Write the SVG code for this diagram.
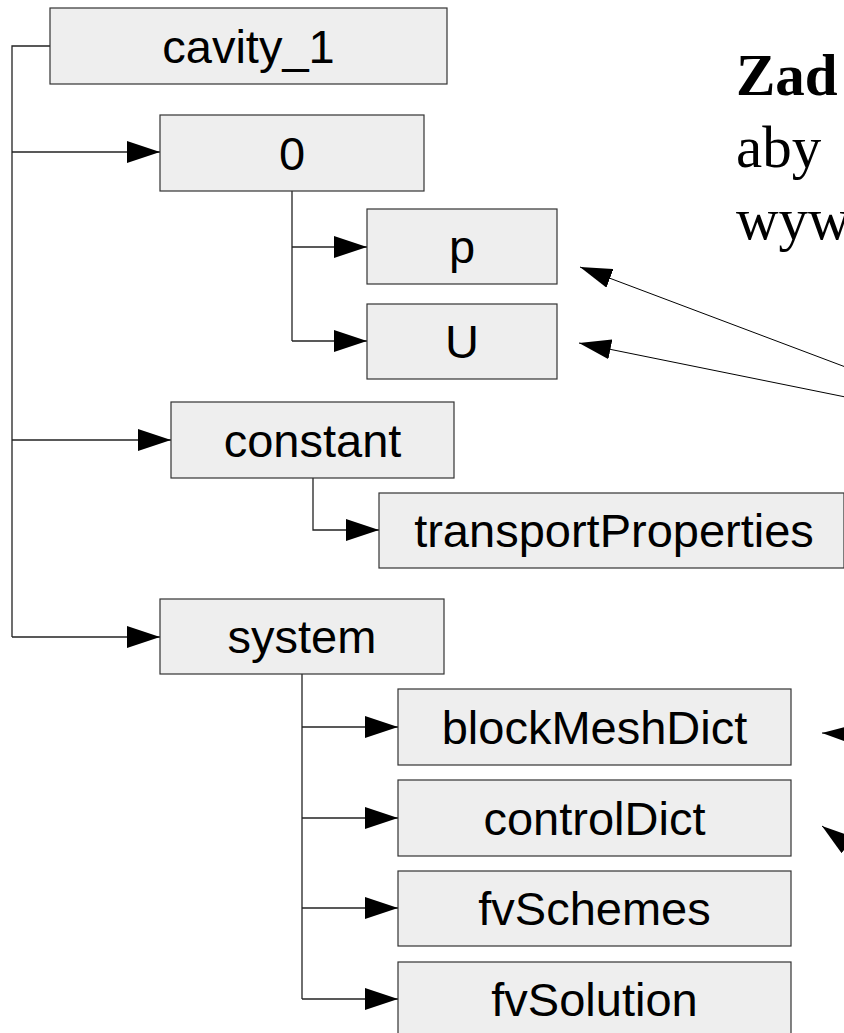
<svg xmlns="http://www.w3.org/2000/svg" width="844" height="1033" viewBox="0 0 844 1033">
  <style>
    .box { fill: #eeeeee; stroke: #333333; stroke-width: 1.2; }
    .lbl { font-family: "Liberation Sans", Arial, sans-serif; font-size: 47px; fill: #000; text-anchor: middle; }
    .tree { fill: none; stroke: #222222; stroke-width: 1.3; }
    .ptr { fill: none; stroke: #000; stroke-width: 1; }
    .note { font-family: "Liberation Serif", "Times New Roman", serif; font-size: 59px; fill: #000; }
  </style>
  <defs>
    <marker id="ah" markerUnits="userSpaceOnUse" markerWidth="33" markerHeight="22" refX="33" refY="11" orient="auto" viewBox="0 0 33 22">
      <path d="M0,0 L33,11 L0,22 z" fill="#000"/>
    </marker>
    <marker id="ah2" markerUnits="userSpaceOnUse" markerWidth="32" markerHeight="20" refX="32" refY="10" orient="auto" viewBox="0 0 32 20">
      <path d="M0,0 L32,10 L0,20 z" fill="#000"/>
    </marker>
  </defs>
  <rect width="844" height="1033" fill="#ffffff"/>

  <g id="note">
    <text class="note" x="736" y="95" font-weight="bold">Zad</text>
    <text class="note" x="736" y="167">aby</text>
    <text class="note" x="736" y="239">wyw</text>
  </g>

  <g id="connectors">
    <path class="tree" d="M50,46 H12 V637"/>
    <path class="tree" d="M12,152 H160" marker-end="url(#ah)"/>
    <path class="tree" d="M12,440 H171" marker-end="url(#ah)"/>
    <path class="tree" d="M12,637 H160" marker-end="url(#ah)"/>
    <path class="tree" d="M292,191 V341"/>
    <path class="tree" d="M292,247 H367" marker-end="url(#ah)"/>
    <path class="tree" d="M292,341 H367" marker-end="url(#ah)"/>
    <path class="tree" d="M313,478 V530 H379" marker-end="url(#ah)"/>
    <path class="tree" d="M302,674 V999"/>
    <path class="tree" d="M302,727 H398" marker-end="url(#ah)"/>
    <path class="tree" d="M302,818 H398" marker-end="url(#ah)"/>
    <path class="tree" d="M302,908 H398" marker-end="url(#ah)"/>
    <path class="tree" d="M302,999 H398" marker-end="url(#ah)"/>
    <path class="ptr" d="M880,380 L580,267" marker-end="url(#ah2)"/>
    <path class="ptr" d="M880,404 L579,343" marker-end="url(#ah2)"/>
    <path class="ptr" d="M890,736 L822,733" marker-end="url(#ah2)"/>
    <path class="ptr" d="M890,877 L822,826" marker-end="url(#ah2)"/>
  </g>

  <g id="cavity_1"><rect class="box" x="50" y="8" width="397" height="76"/><text class="lbl" x="248.5" y="63">cavity_1</text></g>
  <g id="zero"><rect class="box" x="160" y="115" width="264" height="76"/><text class="lbl" x="292" y="170">0</text></g>
  <g id="p"><rect class="box" x="367" y="209" width="190" height="75"/><text class="lbl" x="462" y="263">p</text></g>
  <g id="U"><rect class="box" x="367" y="304" width="190" height="75"/><text class="lbl" x="462" y="358">U</text></g>
  <g id="constant"><rect class="box" x="171" y="402" width="283" height="76"/><text class="lbl" x="312.5" y="457">constant</text></g>
  <g id="transportProperties"><rect class="box" x="379" y="493" width="465" height="75"/><text class="lbl" x="614" y="547">transportProperties</text></g>
  <g id="system"><rect class="box" x="160" y="599" width="284" height="75"/><text class="lbl" x="302" y="653">system</text></g>
  <g id="blockMeshDict"><rect class="box" x="398" y="689" width="393" height="76"/><text class="lbl" x="594.5" y="744">blockMeshDict</text></g>
  <g id="controlDict"><rect class="box" x="398" y="780" width="393" height="76"/><text class="lbl" x="594.5" y="835">controlDict</text></g>
  <g id="fvSchemes"><rect class="box" x="398" y="871" width="393" height="75"/><text class="lbl" x="594.5" y="925">fvSchemes</text></g>
  <g id="fvSolution"><rect class="box" x="398" y="962" width="393" height="75"/><text class="lbl" x="594.5" y="1016">fvSolution</text></g>
</svg>
